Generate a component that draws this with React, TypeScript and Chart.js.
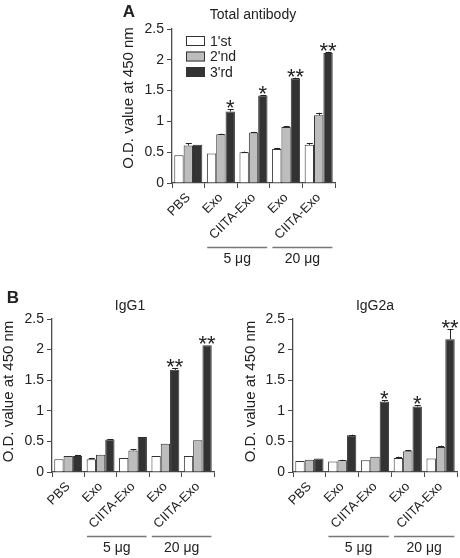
import React, { useEffect, useRef } from "react";
import { Chart, registerables } from "chart.js";

Chart.register(...registerables);

// ---------- data ----------
const categories = ["PBS", "Exo", "CIITA-Exo", "Exo", "CIITA-Exo"];
const seriesLabels = ["1'st", "2'nd", "3'rd"];
const yTicks = [0, 0.5, 1, 1.5, 2, 2.5];

const totalFirst = [0.45, 0.48, 0.5, 0.55, 0.62];
const totalSecond = [0.61, 0.79, 0.82, 0.91, 1.1];
const totalThird = [0.62, 1.16, 1.42, 1.7, 2.11];
const totalFirstErr = [0, 0, 0.01, 0.02, 0.03];
const totalSecondErr = [0.04, 0.01, 0.01, 0.01, 0.04];
const totalThirdErr = [0, 0.04, 0.01, 0.01, 0.02];
const totalStars = ["", "*", "*", "**", "**"];

const igg1First = [0.21, 0.21, 0.23, 0.26, 0.26];
const igg1Second = [0.26, 0.28, 0.35, 0.46, 0.52];
const igg1Third = [0.26, 0.53, 0.57, 1.67, 2.07];
const igg1FirstErr = [0, 0.02, 0, 0, 0];
const igg1SecondErr = [0, 0, 0.02, 0, 0];
const igg1ThirdErr = [0.02, 0.01, 0, 0.03, 0];
const igg1Stars = ["", "", "", "**", "**"];

const igg2aFirst = [0.18, 0.17, 0.19, 0.23, 0.22];
const igg2aSecond = [0.2, 0.19, 0.25, 0.34, 0.41];
const igg2aThird = [0.22, 0.6, 1.15, 1.07, 2.17];
const igg2aFirstErr = [0, 0, 0, 0.02, 0];
const igg2aSecondErr = [0, 0.01, 0, 0.02, 0.02];
const igg2aThirdErr = [0, 0.01, 0.02, 0.02, 0.16];
const igg2aStars = ["", "", "*", "*", "**"];

const doseGroups = [
  { label: "5 \u03bcg", from: 1, to: 2 },
  { label: "20 \u03bcg", from: 3, to: 4 },
];

const yTitle = "O.D. value at 450 nm";

// ---------- styling ----------
const FONT = "'Liberation Sans', Arial, Helvetica, sans-serif";
const fills = ["#ffffff", "#bdbdbd", "#333333"];
const AXIS = "#4a4a4a";
const TEXT = "#222222";

const extrasPlugin = {
  id: "extras",
  afterDraw(chart: any, _args: any, opts: any) {
    const ctx: CanvasRenderingContext2D = chart.ctx;
    const area = chart.chartArea;
    const xs = chart.scales.x;
    const ys = chart.scales.y;
    ctx.save();
    // error bars
    chart.data.datasets.forEach((ds: any, di: number) => {
      const meta = chart.getDatasetMeta(di);
      const errs = opts.errors[di];
      meta.data.forEach((bar: any, i: number) => {
        const e = errs[i];
        if (!e) return;
        const v = ds.data[i];
        const y0 = ys.getPixelForValue(v);
        const y1 = ys.getPixelForValue(v + e);
        ctx.strokeStyle = "#222";
        ctx.lineWidth = 1;
        ctx.beginPath();
        ctx.moveTo(Math.round(bar.x) + 0.5, y0);
        ctx.lineTo(Math.round(bar.x) + 0.5, y1);
        ctx.moveTo(bar.x - 2.5, Math.round(y1) + 0.5);
        ctx.lineTo(bar.x + 3.5, Math.round(y1) + 0.5);
        ctx.stroke();
      });
    });
    // significance stars over last series
    const last = chart.data.datasets.length - 1;
    const lastMeta = chart.getDatasetMeta(last);
    ctx.fillStyle = TEXT;
    ctx.font = `22px ${FONT}`;
    ctx.textAlign = "center";
    ctx.textBaseline = "alphabetic";
    lastMeta.data.forEach((bar: any, i: number) => {
      const s = opts.stars[i];
      if (!s) return;
      const v = chart.data.datasets[last].data[i] + (opts.errors[last][i] || 0);
      const yTop = ys.getPixelForValue(v);
      ctx.fillText(s, bar.x, yTop + 6);
    });
    // y-axis title
    ctx.font = `15px ${FONT}`;
    ctx.fillStyle = TEXT;
    ctx.save();
    ctx.translate(opts.yTitleX, opts.yTitleY);
    ctx.rotate(-Math.PI / 2);
    ctx.textAlign = "center";
    ctx.textBaseline = "middle";
    ctx.fillText(yTitle, 0, 0);
    ctx.restore();
    // panel title
    ctx.textAlign = "center";
    ctx.textBaseline = "middle";
    ctx.font = `14px ${FONT}`;
    ctx.fillText(opts.title, opts.titleX, opts.titleY);
    // panel letter
    if (opts.letter) {
      ctx.font = `bold 17px ${FONT}`;
      ctx.fillText(opts.letter, opts.letterX, opts.letterY);
    }
    // legend
    if (opts.legend) {
      const { x, y, gap } = opts.legend;
      chart.data.datasets.forEach((ds: any, di: number) => {
        const cy = y + di * gap;
        ctx.fillStyle = ds.backgroundColor;
        ctx.fillRect(x, cy - 5, 19, 10);
        ctx.strokeStyle = "#333";
        ctx.lineWidth = 1;
        ctx.strokeRect(x + 0.5, cy - 5 + 0.5, 18, 9);
        ctx.fillStyle = TEXT;
        ctx.font = `14px ${FONT}`;
        ctx.textAlign = "left";
        ctx.textBaseline = "middle";
        ctx.fillText(ds.label, x + 24, cy + 1);
      });
    }
    // dose groups
    const w = xs.getPixelForValue(1) - xs.getPixelForValue(0);
    opts.groups.forEach((g: any) => {
      const x0 = xs.getPixelForValue(g.from) - 0.42 * w;
      const x1 = xs.getPixelForValue(g.to) + 0.42 * w;
      const ly = Math.round(area.bottom + 64) + 0.5;
      ctx.strokeStyle = "#777";
      ctx.lineWidth = 1.5;
      ctx.beginPath();
      ctx.moveTo(x0, ly);
      ctx.lineTo(x1, ly);
      ctx.stroke();
      ctx.fillStyle = TEXT;
      ctx.font = `14px ${FONT}`;
      ctx.textAlign = "center";
      ctx.textBaseline = "middle";
      ctx.fillText(g.label, (x0 + x1) / 2, area.bottom + 76);
    });
    ctx.restore();
  },
};

type PanelProps = {
  left: number;
  top: number;
  width: number;
  height: number;
  areaLeft: number;
  areaTop: number;
  areaRight: number;
  areaBottom: number;
  series: number[][];
  errors: number[][];
  stars: string[];
  title: string;
  titleX: number;
  titleY: number;
  yTitleX: number;
  yTitleY: number;
  letter?: string;
  letterX?: number;
  letterY?: number;
  legend?: { x: number; y: number; gap: number };
};

function Panel(p: PanelProps) {
  const ref = useRef<HTMLCanvasElement | null>(null);
  useEffect(() => {
    if (!ref.current) return;
    const chart = new Chart(ref.current, {
      type: "bar",
      data: {
        labels: categories,
        datasets: p.series.map((d, i) => ({
          label: seriesLabels[i],
          data: d,
          backgroundColor: fills[i],
          borderColor: "#333",
          borderWidth: 1,
          borderSkipped: "bottom",
          categoryPercentage: 0.86,
          barPercentage: 1.0,
        })),
      },
      options: {
        animation: false,
        responsive: false,
        devicePixelRatio: 1,
        layout: {
          padding: {
            top: p.areaTop,
            right: p.width - p.areaRight,
            left: 0,
            bottom: 0,
          },
        },
        plugins: {
          legend: { display: false },
          title: { display: false },
          tooltip: { enabled: false },
          extras: {
            errors: p.errors,
            stars: p.stars,
            title: p.title,
            titleX: p.titleX,
            titleY: p.titleY,
            yTitleX: p.yTitleX,
            yTitleY: p.yTitleY,
            letter: p.letter,
            letterX: p.letterX,
            letterY: p.letterY,
            legend: p.legend,
            groups: doseGroups,
          },
        } as any,
        scales: {
          x: {
            grid: {
              display: true,
              drawOnChartArea: false,
              drawTicks: true,
              tickLength: 5,
              color: AXIS,
              offset: true,
            },
            border: { display: true, color: AXIS, width: 1.3 },
            ticks: {
              color: TEXT,
              font: { family: FONT, size: 13 },
              minRotation: 45,
              maxRotation: 45,
              padding: 2,
            },
            afterFit: (s: any) => {
              s.height = p.height - p.areaBottom;
            },
          },
          y: {
            min: yTicks[0],
            max: yTicks[yTicks.length - 1],
            afterBuildTicks: (s: any) => {
              s.ticks = yTicks.map((v) => ({ value: v }));
            },
            grid: {
              display: true,
              drawOnChartArea: false,
              drawTicks: true,
              tickLength: 5,
              color: AXIS,
            },
            border: { display: true, color: AXIS, width: 1.3 },
            ticks: {
              color: TEXT,
              font: { family: FONT, size: 14 },
              padding: 3,
              callback: (v: any) => String(v),
            },
            afterFit: (s: any) => {
              s.width = p.areaLeft;
            },
          },
        },
      },
      plugins: [extrasPlugin],
    });
    return () => chart.destroy();
  }, []);
  return (
    <canvas
      ref={ref}
      width={p.width}
      height={p.height}
      style={{
        position: "absolute",
        left: p.left,
        top: p.top,
        width: p.width,
        height: p.height,
      }}
    />
  );
}

export default function App() {
  return (
    <div
      style={{
        position: "absolute",
        left: 0,
        top: 0,
        width: 460,
        height: 558,
        background: "#fff",
        overflow: "hidden",
      }}
    >
      <Panel
        left={100}
        top={0}
        width={250}
        height={280}
        areaLeft={72}
        areaTop={29}
        areaRight={235}
        areaBottom={183}
        series={[totalFirst, totalSecond, totalThird]}
        errors={[totalFirstErr, totalSecondErr, totalThirdErr]}
        stars={totalStars}
        title="Total antibody"
        titleX={153}
        titleY={15.5}
        yTitleX={29}
        yTitleY={98}
        letter="A"
        letterX={29}
        letterY={12}
        legend={{ x: 86, y: 41, gap: 15.5 }}
      />
      <Panel
        left={0}
        top={285}
        width={230}
        height={273}
        areaLeft={52}
        areaTop={34}
        areaRight={214}
        areaBottom={187}
        series={[igg1First, igg1Second, igg1Third]}
        errors={[igg1FirstErr, igg1SecondErr, igg1ThirdErr]}
        stars={igg1Stars}
        title="IgG1"
        titleX={130}
        titleY={21}
        yTitleX={9}
        yTitleY={106.5}
        letter="B"
        letterX={13}
        letterY={13}
      />
      <Panel
        left={230}
        top={285}
        width={230}
        height={273}
        areaLeft={63}
        areaTop={34}
        areaRight={227}
        areaBottom={187}
        series={[igg2aFirst, igg2aSecond, igg2aThird]}
        errors={[igg2aFirstErr, igg2aSecondErr, igg2aThirdErr]}
        stars={igg2aStars}
        title="IgG2a"
        titleX={145}
        titleY={21}
        yTitleX={21}
        yTitleY={106.5}
      />
    </div>
  );
}
